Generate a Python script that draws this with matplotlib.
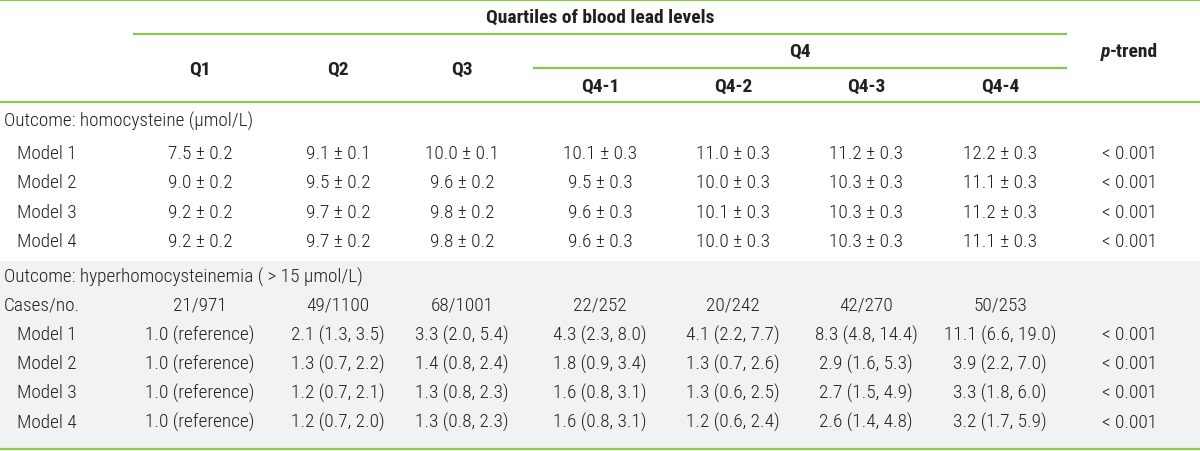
import matplotlib.pyplot as plt
from matplotlib import font_manager
from matplotlib.patches import Rectangle

installed = {f.name for f in font_manager.fontManager.ttflist}
preferred = ['Roboto Condensed', 'Liberation Sans Narrow', 'Archivo Narrow', 'Barlow Semi Condensed', 'Roboto']
FONT = next(n for n in preferred + ['DejaVu Sans'] if n in installed)
plt.rcParams['font.family'] = [FONT, 'DejaVu Sans']

GREEN = '#8cc751'
TEXT = '#231f20'
SHADE = '#f1f2f2'

columns = ['Q1', 'Q2', 'Q3', 'Q4-1', 'Q4-2', 'Q4-3', 'Q4-4']
col_x = [200, 338, 462, 600, 733, 866, 1000]
p_x = 1130

section1 = 'Outcome: homocysteine (µmol/L)'
hcy_labels = ['Model 1', 'Model 2', 'Model 3', 'Model 4']
hcy_values = [
    ['7.5 ± 0.2', '9.1 ± 0.1', '10.0 ± 0.1', '10.1 ± 0.3', '11.0 ± 0.3', '11.2 ± 0.3', '12.2 ± 0.3'],
    ['9.0 ± 0.2', '9.5 ± 0.2', '9.6 ± 0.2', '9.5 ± 0.3', '10.0 ± 0.3', '10.3 ± 0.3', '11.1 ± 0.3'],
    ['9.2 ± 0.2', '9.7 ± 0.2', '9.8 ± 0.2', '9.6 ± 0.3', '10.1 ± 0.3', '10.3 ± 0.3', '11.2 ± 0.3'],
    ['9.2 ± 0.2', '9.7 ± 0.2', '9.8 ± 0.2', '9.6 ± 0.3', '10.0 ± 0.3', '10.3 ± 0.3', '11.1 ± 0.3'],
]
hcy_p = ['< 0.001', '< 0.001', '< 0.001', '< 0.001']

section2 = 'Outcome: hyperhomocysteinemia ( > 15 µmol/L)'
cases = ['21/971', '49/1100', '68/1001', '22/252', '20/242', '42/270', '50/253']
hyper_labels = ['Model 1', 'Model 2', 'Model 3', 'Model 4']
hyper_values = [
    ['1.0 (reference)', '2.1 (1.3, 3.5)', '3.3 (2.0, 5.4)', '4.3 (2.3, 8.0)', '4.1 (2.2, 7.7)', '8.3 (4.8, 14.4)', '11.1 (6.6, 19.0)'],
    ['1.0 (reference)', '1.3 (0.7, 2.2)', '1.4 (0.8, 2.4)', '1.8 (0.9, 3.4)', '1.3 (0.7, 2.6)', '2.9 (1.6, 5.3)', '3.9 (2.2, 7.0)'],
    ['1.0 (reference)', '1.2 (0.7, 2.1)', '1.3 (0.8, 2.3)', '1.6 (0.8, 3.1)', '1.3 (0.6, 2.5)', '2.7 (1.5, 4.9)', '3.3 (1.8, 6.0)'],
    ['1.0 (reference)', '1.2 (0.7, 2.0)', '1.3 (0.8, 2.3)', '1.6 (0.8, 3.1)', '1.2 (0.6, 2.4)', '2.6 (1.4, 4.8)', '3.2 (1.7, 5.9)'],
]
hyper_p = ['< 0.001', '< 0.001', '< 0.001', '< 0.001']

fig = plt.figure(figsize=(12, 4.52), dpi=100)
ax = fig.add_axes([0, 0, 1, 1])
ax.set_xlim(0, 1200)
ax.set_ylim(452, 0)
ax.axis('off')
renderer = fig.canvas.get_renderer()


def fit_size(s, width, weight='normal'):
    # font size giving the wanted pixel width for a sample string
    t = ax.text(0, 0, s, fontsize=10, fontweight=weight)
    w = t.get_window_extent(renderer).width
    t.remove()
    return 10 * width / w


fs = fit_size(section1, 250, 'light')
fs_b = fit_size('Quartiles of blood lead levels', 228, 'bold')

ax.add_patch(Rectangle((0, 262), 1200, 188, color=SHADE, lw=0))

# rules
for y, x0, x1 in [(1, 0, 1200), (35, 133, 1067), (69, 533, 1067), (103, 0, 1200), (450, 0, 1200)]:
    ax.plot([x0, x1], [y, y], color=GREEN, lw=1.6, solid_capstyle='butt')

# header
hdr = dict(fontsize=fs_b, fontweight='bold', color=TEXT, ha='center', va='center')
ax.text(600, 18, 'Quartiles of blood lead levels', **hdr)
for name, x in zip(columns[:3], col_x[:3]):
    ax.text(x, 70, name, **hdr)
ax.text(800, 52, 'Q4', **hdr)
for name, x in zip(columns[3:], col_x[3:]):
    ax.text(x, 87, name, **hdr)
ax.text(p_x - 20, 52, 'p', fontsize=fs_b, fontweight='bold', fontstyle='italic', color=TEXT, ha='right', va='center')
ax.text(p_x - 20, 52, '-trend', fontsize=fs_b, fontweight='bold', color=TEXT, ha='left', va='center')

body = dict(fontsize=fs, fontweight='light', color=TEXT, va='center')


def draw_row(y, label, values, p, indent):
    ax.text(indent, y, label, ha='left', **body)
    for v, x in zip(values, col_x):
        ax.text(x, y, v, ha='center', **body)
    if p:
        ax.text(p_x, y, p, ha='center', **body)


ax.text(4, 121, section1, ha='left', **body)
for i, (lab, vals, p) in enumerate(zip(hcy_labels, hcy_values, hcy_p)):
    draw_row(154 + i * 29.3, lab, vals, p, 17)

ax.text(4, 277, section2, ha='left', **body)
draw_row(306, 'Cases/no.', cases, None, 4)
for i, (lab, vals, p) in enumerate(zip(hyper_labels, hyper_values, hyper_p)):
    draw_row(335 + i * 29.2, lab, vals, p, 17)

fig.savefig('out.png', dpi=100)
